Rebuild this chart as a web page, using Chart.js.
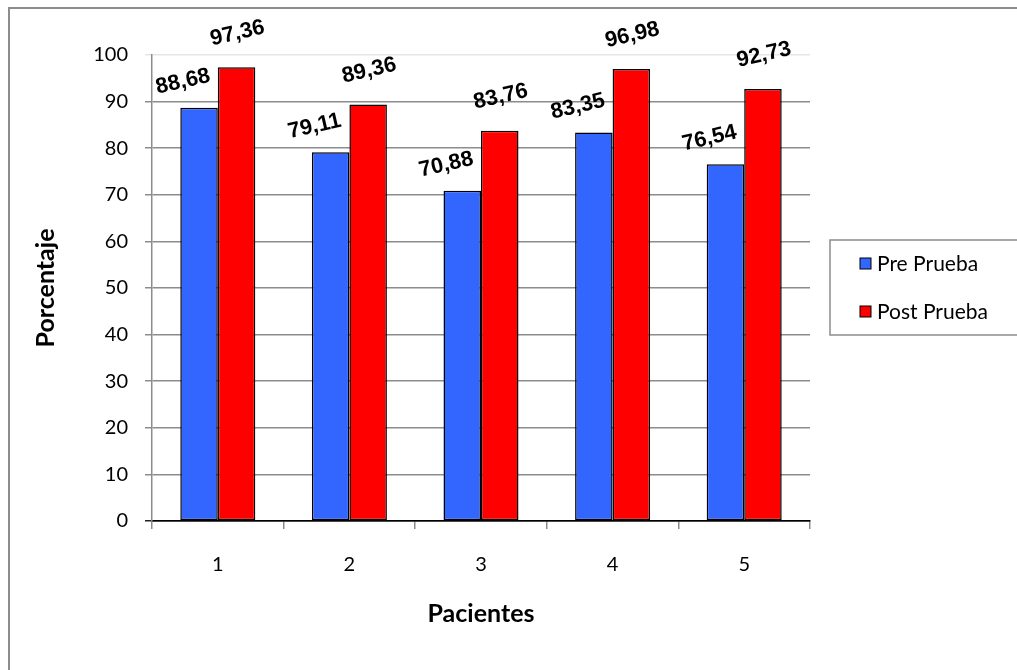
<!DOCTYPE html>
<html>
<head>
<meta charset="utf-8">
<script src="https://cdn.jsdelivr.net/npm/chart.js@4"></script>
<style>
  html, body { margin: 0; padding: 0; background: #fff; }
  #wrap { width: 1017px; height: 670px; position: relative; }
</style>
</head>
<body>
<div id="wrap"><canvas id="c" width="1017" height="670"></canvas></div>
<script>
// Patients and test scores (percentage)
const categories = ['1', '2', '3', '4', '5'];
const preTest = [88.68, 79.11, 70.88, 83.35, 76.54];
const postTest = [97.36, 89.36, 83.76, 96.98, 92.73];
const yTicks = [0, 10, 20, 30, 40, 50, 60, 70, 80, 90, 100];
const seriesNames = ['Pre Prueba', 'Post Prueba'];

const LABEL_FONT = 'bold 22px "Liberation Sans", Arial, sans-serif';
const TICK_FONT = { family: 'Lato, "Open Sans", sans-serif', size: 20 };
const TITLE_FONT = { family: 'Lato, "Open Sans", sans-serif', size: 25, weight: 'bold' };

// Outer frame of the drawing
const framePlugin = {
  id: 'frame',
  beforeDraw(chart) {
    const ctx = chart.ctx;
    ctx.save();
    ctx.fillStyle = '#fff';
    ctx.fillRect(0, 0, chart.width, chart.height);
    ctx.strokeStyle = '#8c8c8c';
    ctx.lineWidth = 2;
    ctx.strokeRect(9, 8, chart.width + 20, chart.height + 20);
    ctx.restore();
  }
};

// Rotated value labels above each bar
const valueLabels = {
  id: 'valueLabels',
  afterDatasetsDraw(chart) {
    const ctx = chart.ctx;
    ctx.save();
    ctx.font = LABEL_FONT;
    ctx.fillStyle = '#000';
    ctx.textAlign = 'center';
    ctx.textBaseline = 'middle';
    chart.data.datasets.forEach((ds, di) => {
      const meta = chart.getDatasetMeta(di);
      const dx = di === 0 ? -16 : 1;
      const dy = di === 0 ? -26 : -34;
      meta.data.forEach((bar, i) => {
        const txt = ds.data[i].toFixed(2).replace('.', ',');
        ctx.save();
        ctx.translate(bar.x + dx, bar.y + dy);
        ctx.rotate(-13 * Math.PI / 180);
        ctx.fillText(txt, 0, 0);
        ctx.restore();
      });
    });
    ctx.restore();
  }
};

// Boxed legend on the right
const boxLegend = {
  id: 'boxLegend',
  afterDraw(chart) {
    const ctx = chart.ctx;
    const bx = 830, by = 240, bw = 190, bh = 95;
    ctx.save();
    ctx.strokeStyle = '#8c8c8c';
    ctx.lineWidth = 1.5;
    ctx.strokeRect(bx, by, bw, bh);
    ctx.font = '21px Lato, "Open Sans", sans-serif';
    ctx.textBaseline = 'middle';
    ctx.textAlign = 'left';
    chart.data.datasets.forEach((ds, i) => {
      const cy = 264 + i * 48;
      ctx.fillStyle = ds.backgroundColor;
      ctx.fillRect(860, cy - 6, 11, 11);
      ctx.strokeStyle = '#000';
      ctx.lineWidth = 1;
      ctx.strokeRect(860, cy - 6, 11, 11);
      ctx.fillStyle = '#000';
      ctx.fillText(ds.label, 877, cy);
    });
    ctx.restore();
  }
};

new Chart(document.getElementById('c'), {
  type: 'bar',
  data: {
    labels: categories,
    datasets: [
      { label: seriesNames[0], data: preTest, backgroundColor: '#3366ff', borderColor: '#000', borderWidth: 1.5, borderSkipped: false },
      { label: seriesNames[1], data: postTest, backgroundColor: '#ff0000', borderColor: '#000', borderWidth: 1.5, borderSkipped: false }
    ]
  },
  options: {
    responsive: false,
    animation: false,
    devicePixelRatio: 1,
    layout: { padding: { left: 0, top: 55, right: 207, bottom: 0 } },
    datasets: { bar: { categoryPercentage: 0.57, barPercentage: 1 } },
    plugins: { legend: { display: false }, tooltip: { enabled: false } },
    scales: {
      x: {
        afterFit(scale) { scale.height = 149; },
        grid: { drawOnChartArea: false, offset: true, tickLength: 8, color: '#8c8c8c', lineWidth: 1.5 },
        border: { color: '#000', width: 1.5 },
        ticks: { color: '#000', font: TICK_FONT, padding: 24 },
        title: { display: true, text: 'Pacientes', color: '#000', font: TITLE_FONT,
                 padding: { top: 0, bottom: 41 } }
      },
      y: {
        min: 0, max: 100,
        afterFit(scale) { scale.width = 152; },
        afterBuildTicks(scale) { scale.ticks = yTicks.map(v => ({ value: v })); },
        grid: {
          tickLength: 7,
          lineWidth: 1.5,
          color: ctx => ctx.tick && ctx.tick.value === 100 ? '#e6e6e6' : (ctx.tick && ctx.tick.value === 0 ? '#222' : '#8c8c8c')
        },
        border: { color: '#8c8c8c', width: 1.5 },
        ticks: { color: '#000', font: TICK_FONT, padding: 17 },
        title: { display: true, text: 'Porcentaje', color: '#000', font: TITLE_FONT,
                 padding: { top: 31, bottom: 0 } }
      }
    }
  },
  plugins: [framePlugin, valueLabels, boxLegend]
});
</script>
</body>
</html>
